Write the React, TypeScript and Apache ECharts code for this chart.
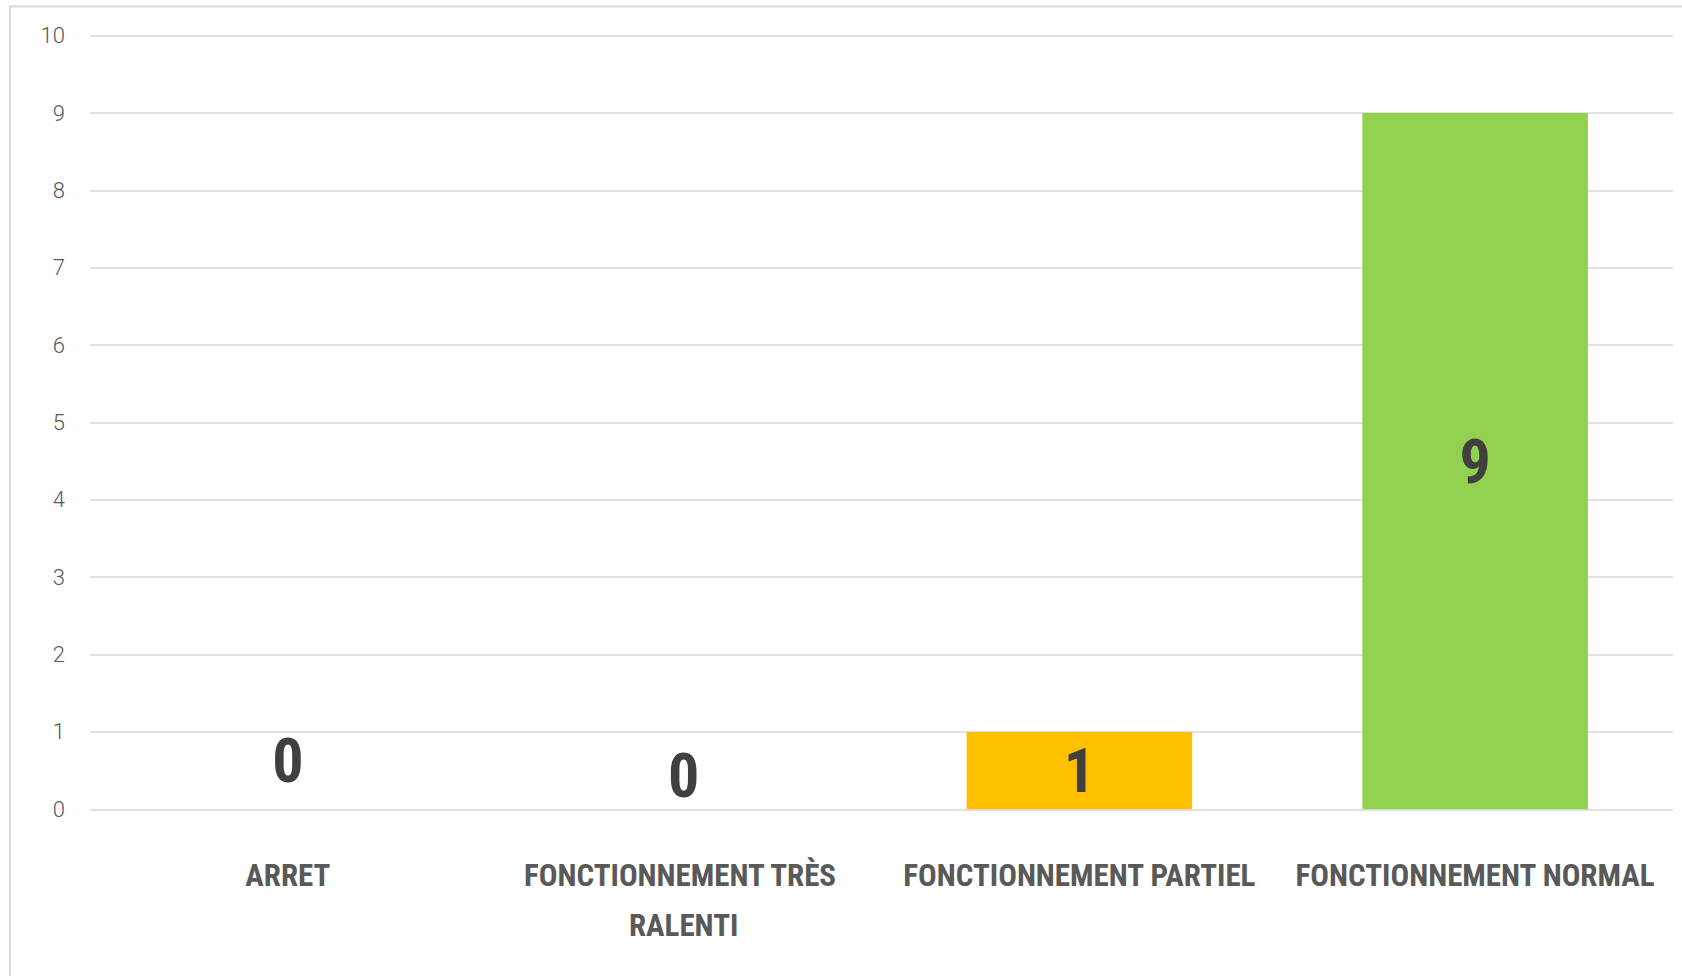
import React, { useEffect, useRef } from "react";
import * as echarts from "echarts";

const categories = [
  "ARRET",
  "FONCTIONNEMENT TRÈS RALENTI",
  "FONCTIONNEMENT PARTIEL",
  "FONCTIONNEMENT NORMAL",
];
const values = [0, 0, 1, 9];
const barColors = ["#A5A5A5", "#ED7D31", "#FFC000", "#92D050"];
const yTicks = [0, 1, 2, 3, 4, 5, 6, 7, 8, 9, 10];

const condensed = "'Roboto Condensed', 'Open Sans', sans-serif";

export default function App() {
  const ref = useRef<HTMLDivElement>(null);
  useEffect(() => {
    if (!ref.current) return;
    const chart = echarts.init(ref.current, undefined, { renderer: "svg" });
    const zeroLift = [-49, -34, 0, 0];
    chart.setOption({
      animation: false,
      backgroundColor: "#ffffff",
      graphic: [
        {
          type: "rect",
          shape: { x: 10, y: 6.5, width: 1700, height: 1000 },
          style: { fill: "none", stroke: "#d9d9d9", lineWidth: 2 },
          silent: true,
        },
      ],
      grid: { left: 90, right: 9, top: 35.7, bottom: 166.7, containLabel: false },
      xAxis: {
        type: "category",
        data: categories,
        axisLine: { show: false },
        axisTick: { show: false },
        axisLabel: {
          interval: 0,
          margin: 41,
          color: "#595959",
          fontFamily: condensed,
          fontWeight: "bold",
          fontSize: 31,
          lineHeight: 50,
          width: 392,
          overflow: "break",
          align: "center",
        },
      },
      yAxis: {
        type: "value",
        min: yTicks[0],
        max: yTicks[yTicks.length - 1],
        interval: 1,
        axisLine: { show: false },
        axisTick: { show: false },
        splitLine: { lineStyle: { color: "#d9d9d9", width: 1.5 } },
        axisLabel: {
          margin: 25,
          color: "#595959",
          fontFamily: "Roboto, 'Liberation Sans', sans-serif",
          fontWeight: 300,
          fontSize: 22,
        },
      },
      series: [
        {
          type: "bar",
          barCategoryGap: "43%",
          data: values.map((v, i) => ({
            value: v,
            itemStyle: { color: barColors[i] },
            label:
              v === 0
                ? { position: ["50%", zeroLift[i]], align: "center", verticalAlign: "middle" }
                : { position: "inside" },
          })),
          label: {
            show: true,
            color: "#404040",
            fontFamily: condensed,
            fontWeight: "bold",
            fontSize: 62,
          },
        },
      ],
    });
    return () => chart.dispose();
  }, []);
  return (
    <div style={{ position: "fixed", left: 0, top: 0, width: 1682, height: 976, background: "#fff" }}>
      <div ref={ref} style={{ width: 1682, height: 976 }} />
    </div>
  );
}
